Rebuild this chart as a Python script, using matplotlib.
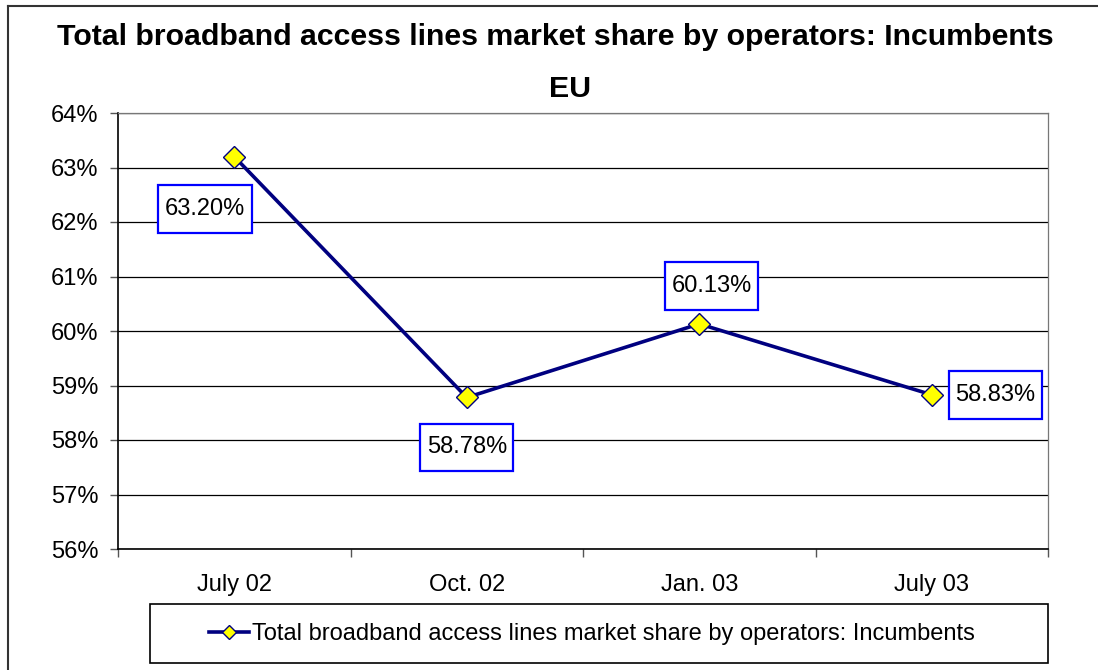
import numpy as np
import matplotlib.pyplot as plt
from matplotlib.patches import Rectangle
from matplotlib.path import Path
from matplotlib.lines import Line2D

plt.rcParams['font.family'] = ['Liberation Sans', 'DejaVu Sans']

categories = ["July 02", "Oct. 02", "Jan. 03", "July 03"]
share = [63.20, 58.78, 60.13, 58.83]
labels = ["63.20%", "58.78%", "60.13%", "58.83%"]
yticks = [56, 57, 58, 59, 60, 61, 62, 63, 64]
series_name = "Total broadband access lines market share by operators: Incumbents"


def label_box(x0, y0, width, height, mutation_size):
    # wider vertical padding than horizontal, like the Excel label boxes
    px, py = 0.28 * mutation_size, 0.55 * mutation_size
    x0, y0 = x0 - px, y0 - py
    x1, y1 = x0 + width + 2 * px, y0 + height + 2 * py
    return Path([(x0, y0), (x1, y0), (x1, y1), (x0, y1), (x0, y0)], closed=True)


fig = plt.figure(figsize=(10.98, 6.7), dpi=100)
ax = fig.add_axes([118/1098, 1-549/670, 930/1098, 436/670])

x = np.arange(len(categories))
ax.plot(x, share, color="#000080", linewidth=2.6, marker="D", markersize=11.5,
        markerfacecolor="#FFFF00", markeredgecolor="#000080", markeredgewidth=1, zorder=3)

offsets = [(-21, -38), (0, -36), (9, 27), (46, 0)]
for xi, yi, lab, off in zip(x, share, labels, offsets):
    ax.annotate(lab, (xi, yi), xytext=off, textcoords="offset points",
                ha="center", va="center", fontsize=17,
                bbox=dict(boxstyle=label_box, facecolor="white",
                          edgecolor="#0000FF", linewidth=1.6), zorder=4)

ax.set_xlim(-0.5, 3.5)
ax.set_ylim(56, 64)
ax.set_yticks(yticks)
ax.set_yticklabels([f"{v}%" for v in yticks], fontsize=17)
ax.set_xticks(x)
ax.set_xticklabels(categories, fontsize=17)
ax.set_xticks(np.arange(-0.5, 3.6, 1), minor=True)
ax.tick_params(axis="x", which="major", length=0, pad=18)
ax.tick_params(axis="x", which="minor", length=6, width=1, color="#555555")
ax.tick_params(axis="y", length=6, width=1, color="#555555", pad=8)
ax.grid(axis="y", color="black", linewidth=0.9)
ax.set_axisbelow(True)
for s in ["top", "right"]:
    ax.spines[s].set_color("#777777")
    ax.spines[s].set_linewidth(0.9)
for s in ["left", "bottom"]:
    ax.spines[s].set_color("black")
    ax.spines[s].set_linewidth(1.2)

fig.text(555/1098, 1-37/670, series_name, ha="center", va="center",
         fontsize=21.8, fontweight="bold")
fig.text(570/1098, 1-89/670, "EU", ha="center", va="center",
         fontsize=21.8, fontweight="bold")

# legend box
fig.patches.append(Rectangle((150/1098, 1-663/670), 898/1098, 59/670,
                             transform=fig.transFigure, facecolor="white",
                             edgecolor="black", linewidth=1.2))
handle = Line2D([], [], color="#000080", linewidth=2.6, marker="D", markersize=7.5,
                markerfacecolor="#FFFF00", markeredgecolor="#000080", markeredgewidth=1)
fig.legend([handle], [series_name], loc="center", bbox_to_anchor=(592/1098, 1-634/670),
           frameon=False, fontsize=17, handlelength=1.7, handletextpad=0.15)

# outer chart border (left and top visible)
fig.add_artist(Line2D([8/1098, 8/1098], [0, 1-6/670], transform=fig.transFigure,
                      color="#333333", linewidth=1.5))
fig.add_artist(Line2D([8/1098, 1], [1-6/670, 1-6/670], transform=fig.transFigure,
                      color="#333333", linewidth=1.5))

fig.savefig("out.png", dpi=100)
